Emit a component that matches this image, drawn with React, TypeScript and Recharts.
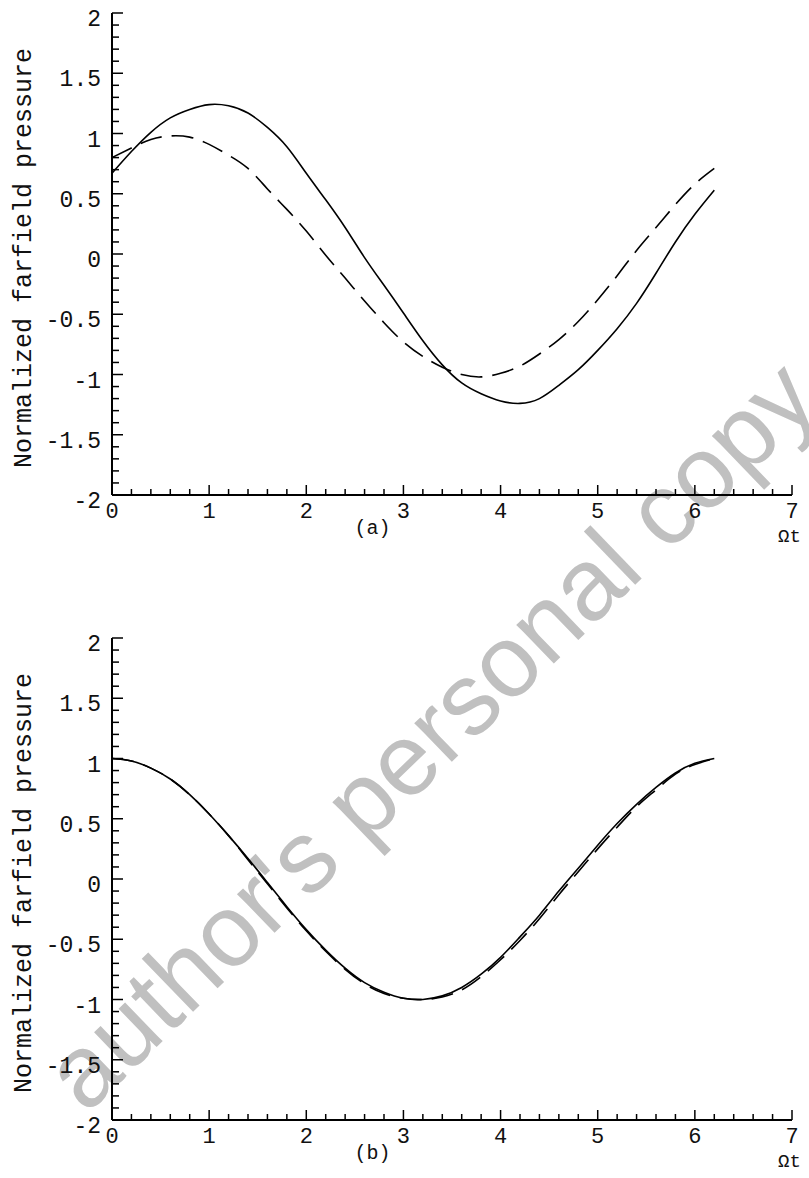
import React from 'react';
import { LineChart, Line, XAxis, YAxis } from 'recharts';

// Ωt sample positions shared by every curve
const omegaT = [
  0, 0.2, 0.4, 0.6, 0.8, 1, 1.2, 1.4, 1.6, 1.8, 2, 2.2, 2.4, 2.6, 2.8, 3,
  3.2, 3.4, 3.6, 3.8, 4, 4.2, 4.4, 4.6, 4.8, 5, 5.2, 5.4, 5.6, 5.8, 6, 6.2,
];

// panel (a)
const solidA = [
  0.67, 0.85, 1.01, 1.13, 1.2, 1.24, 1.23, 1.17, 1.05, 0.89, 0.67, 0.45, 0.22, -0.03, -0.26, -0.49,
  -0.72, -0.92, -1.07, -1.16, -1.22, -1.24, -1.2, -1.09, -0.96, -0.8, -0.62, -0.41, -0.16, 0.1, 0.33, 0.53,
];
const dashedA = [
  0.8, 0.88, 0.95, 0.98, 0.97, 0.91, 0.82, 0.71, 0.54, 0.37, 0.19, -0.01, -0.2, -0.39, -0.57, -0.73,
  -0.85, -0.94, -1.0, -1.02, -0.99, -0.93, -0.83, -0.71, -0.56, -0.38, -0.18, 0.03, 0.22, 0.41, 0.58, 0.71,
];

// panel (b)
const solidB = [
  1.0, 0.98, 0.92, 0.83, 0.7, 0.54, 0.36, 0.17, -0.03, -0.23, -0.42, -0.59, -0.74, -0.86, -0.94, -0.99,
  -1.0, -0.97, -0.9, -0.79, -0.65, -0.48, -0.3, -0.1, 0.09, 0.28, 0.46, 0.62, 0.76, 0.88, 0.96, 1.0,
];
const dashedB = [
  1.0, 0.98, 0.92, 0.83, 0.7, 0.54, 0.36, 0.16, -0.04, -0.24, -0.43, -0.6, -0.75, -0.87, -0.95, -0.99,
  -1.0, -0.98, -0.92, -0.81, -0.67, -0.51, -0.33, -0.13, 0.06, 0.25, 0.43, 0.6, 0.74, 0.87, 0.95, 1.0,
];

const xTicks = [
  0, 0.2, 0.4, 0.6, 0.8, 1, 1.2, 1.4, 1.6, 1.8, 2, 2.2, 2.4, 2.6, 2.8, 3, 3.2, 3.4,
  3.6, 3.8, 4, 4.2, 4.4, 4.6, 4.8, 5, 5.2, 5.4, 5.6, 5.8, 6, 6.2, 6.4, 6.6, 6.8, 7,
];
const yTicks = [
  -2, -1.9, -1.8, -1.7, -1.6, -1.5, -1.4, -1.3, -1.2, -1.1, -1, -0.9, -0.8, -0.7, -0.6, -0.5,
  -0.4, -0.3, -0.2, -0.1, 0, 0.1, 0.2, 0.3, 0.4, 0.5, 0.6, 0.7, 0.8, 0.9, 1, 1.1, 1.2, 1.3,
  1.4, 1.5, 1.6, 1.7, 1.8, 1.9, 2,
];

const yTitle = 'Normalized farfield pressure';
const xTitle = 'Ωt';
const watermark = "author's personal copy";

const MONO = '"Liberation Mono", "Courier New", monospace';

const onStep = (v: number, step: number) => Math.abs(v / step - Math.round(v / step)) < 1e-6;

function XTick(props: any) {
  const { x, y, payload } = props;
  const major = onStep(payload.value, 1);
  return (
    <g>
      <line x1={x} x2={x} y1={y} y2={y - (major ? 10 : 6)} stroke="#000" strokeWidth={1.5} />
      {major && (
        <text x={x} y={y + 23} textAnchor="middle" fontFamily={MONO} fontSize={22} fill="#111">
          {String(payload.value)}
        </text>
      )}
    </g>
  );
}

function YTick(props: any) {
  const { x, y, payload } = props;
  const major = onStep(payload.value, 0.5);
  return (
    <g>
      <line x1={x} x2={x + (major ? 11 : 7)} y1={y} y2={y} stroke="#000" strokeWidth={1.5} />
      {major && (
        <text x={x - 11} y={y + 13} textAnchor="end" fontFamily={MONO} fontSize={23} fill="#111">
          {String(payload.value)}
        </text>
      )}
    </g>
  );
}

function Panel({ solid, dashed, tag, top, height, marginTop, xAxisHeight }: any) {
  const rows = omegaT.map((t, i) => ({ t, solid: solid[i], dashed: dashed[i] }));
  return (
    <div style={{ position: 'absolute', left: 0, top, zIndex: 1 }}>
      <LineChart width={809} height={height} data={rows} margin={{ top: marginTop, right: 17, bottom: 5, left: 0 }}>
        <XAxis
          dataKey="t"
          type="number"
          domain={[0, 7]}
          ticks={xTicks}
          interval={0}
          allowDataOverflow
          height={xAxisHeight}
          tickSize={0}
          tickMargin={0}
          tickLine={false}
          tick={XTick}
          axisLine={{ stroke: '#000', strokeWidth: 2 }}
          label={(p: any) => {
            const vb = p.viewBox;
            return (
              <g>
                <text x={vb.x + vb.width * 0.383} y={vb.y + 39} textAnchor="middle" fontFamily={MONO} fontSize={20} fill="#111">
                  {tag}
                </text>
                <text x={vb.x + vb.width - 14} y={vb.y + 47} fontFamily={MONO} fontSize={19} fill="#111">
                  {xTitle}
                </text>
              </g>
            );
          }}
        />
        <YAxis
          type="number"
          domain={[-2, 2]}
          ticks={yTicks}
          interval={0}
          allowDataOverflow
          width={112}
          tickSize={0}
          tickMargin={0}
          tickLine={false}
          tick={YTick}
          axisLine={{ stroke: '#000', strokeWidth: 2 }}
          label={(p: any) => {
            const vb = p.viewBox;
            const cy = vb.y + vb.height / 2 + 4;
            return (
              <text
                x={24}
                y={cy}
                transform={`rotate(-90 24 ${cy})`}
                textAnchor="middle"
                dominantBaseline="central"
                fontFamily={MONO}
                fontSize={25}
                fill="#111"
              >
                {yTitle}
              </text>
            );
          }}
        />
        <Line dataKey="solid" type="natural" stroke="#000" strokeWidth={1.6} dot={false} isAnimationActive={false} />
        <Line
          dataKey="dashed"
          type="natural"
          stroke="#000"
          strokeWidth={1.6}
          strokeDasharray="22 10"
          dot={false}
          isAnimationActive={false}
        />
      </LineChart>
    </div>
  );
}

export default function App() {
  return (
    <div style={{ position: 'absolute', left: 0, top: 0, width: 809, height: 1178, background: '#fff', overflow: 'hidden' }}>
      <div
        style={{
          position: 'absolute',
          left: 430,
          top: 735,
          transform: 'translate(-50%, -50%) rotate(-44deg)',
          whiteSpace: 'nowrap',
          fontFamily: '"Liberation Sans", Arial, sans-serif',
          fontSize: 102,
          color: '#c0c0c0',
          zIndex: 0,
        }}
      >
        {watermark}
      </div>
      <Panel solid={solidA} dashed={dashedA} tag="(a)" top={0} height={560} marginTop={13} xAxisHeight={60} />
      <Panel solid={solidB} dashed={dashedB} tag="(b)" top={600} height={578} marginTop={38} xAxisHeight={53} />
    </div>
  );
}
